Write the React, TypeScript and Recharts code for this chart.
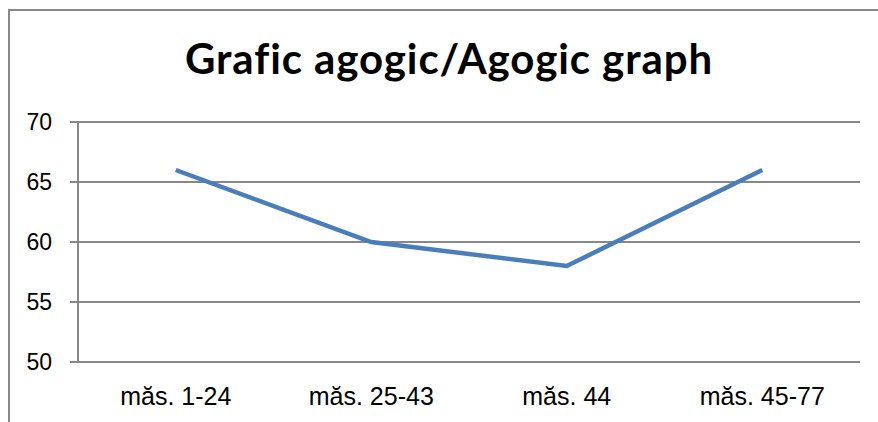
import React from "react";
import { LineChart, Line, XAxis, YAxis, CartesianGrid } from "recharts";

const categories = ["măs. 1-24", "măs. 25-43", "măs. 44", "măs. 45-77"];
const tempo = [66, 60, 58, 66];
const yTicks = [50, 55, 60, 65, 70];

const data = categories.map((c, i) => ({ pos: i + 0.5, name: c, tempo: tempo[i] }));
const boundaryTicks = categories.map((_, i) => i).concat(categories.length);
const labelTicks = categories.map((_, i) => i + 0.5);

export default function App() {
  return (
    <div style={{ position: "absolute", left: 0, top: 0, width: 878, height: 422, background: "#fff", overflow: "hidden" }}>
      <style>{`body{margin:0}`}</style>
      <div
        style={{
          position: "absolute",
          left: 8,
          top: 9,
          width: 880,
          height: 420,
          borderLeft: "2px solid #888",
          borderTop: "2px solid #888",
        }}
      />
      <div
        style={{
          position: "absolute",
          left: 0,
          top: 33,
          width: 898,
          textAlign: "center",
          fontFamily: "Lato",
          fontWeight: 700,
          fontSize: 42,
          letterSpacing: 0.9,
          color: "#000",
        }}
      >
        Grafic agogic/Agogic graph
      </div>
      <div style={{ position: "absolute", left: 0, top: 0 }}>
        <LineChart width={878} height={422} data={data} margin={{ top: 122, right: 18, left: 18, bottom: 0 }}>
          <CartesianGrid vertical={false} stroke="#888" strokeWidth={2} />
          <XAxis
            xAxisId="b"
            dataKey="pos"
            type="number"
            domain={[0, 4]}
            ticks={boundaryTicks}
            tickFormatter={() => ""}
            tickSize={8}
            height={0}
            stroke="#888"
            strokeWidth={2}
          />
          <XAxis
            xAxisId="l"
            dataKey="pos"
            type="number"
            domain={[0, 4]}
            ticks={labelTicks}
            tickFormatter={(v: number) => categories[Math.floor(v)]}
            tickLine={false}
            axisLine={false}
            tickSize={0}
            tickMargin={25}
            height={60}
            tick={{ fill: "#000", fontSize: 25, fontFamily: "Liberation Sans" }}
          />
          <YAxis
            domain={[50, 70]}
            ticks={yTicks}
            width={60}
            tickSize={8}
            tickMargin={18}
            stroke="#888"
            strokeWidth={2}
            tick={{ fill: "#000", fontSize: 23, fontFamily: "Liberation Sans" }}
          />
          <Line
            xAxisId="b"
            dataKey="tempo"
            stroke="#4A7EBB"
            strokeWidth={4.5}
            dot={false}
            isAnimationActive={false}
          />
        </LineChart>
      </div>
    </div>
  );
}
